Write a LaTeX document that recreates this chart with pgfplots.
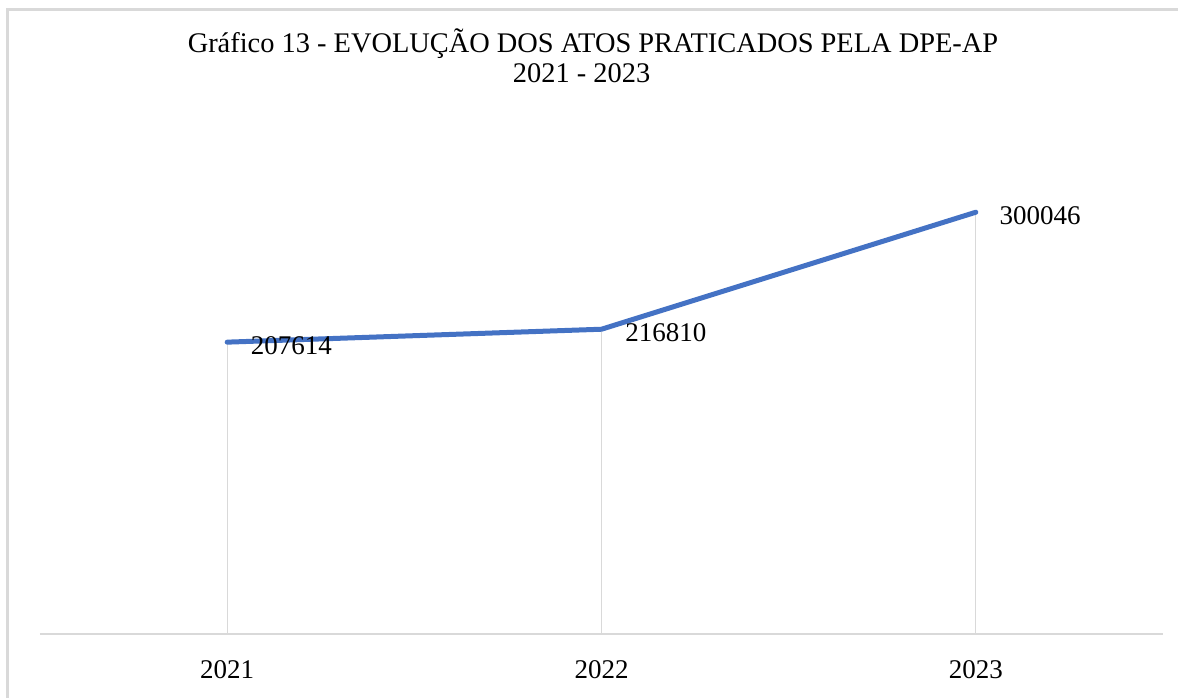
\documentclass[border=0pt]{standalone}
\usepackage{pgfplots}
\pgfplotsset{compat=1.18}
\usepackage{fontspec}
\setmainfont{Liberation Serif}
\definecolor{linhaazul}{HTML}{4472C4}
\definecolor{cinzagrade}{HTML}{D9D9D9}

\begin{document}
\begin{tikzpicture}
% page is 1178x697 px at 0.5pt per px
\useasboundingbox (0,0) rectangle (589pt,348.5pt);
% chart frame (runs off the right and bottom edges)
\draw[cinzagrade, line width=1.5pt] (3.5pt,-20pt) -- (3.5pt,343.5pt) -- (620pt,343.5pt);

\node[anchor=base, font=\fontsize{14.2}{17}\selectfont] at (296.5pt,322pt)
  {Gráfico 13 - EVOLUÇÃO DOS ATOS PRATICADOS PELA DPE-AP};
\node[anchor=base, font=\fontsize{14.2}{17}\selectfont] at (290.8pt,307pt) {2021 - 2023};

\begin{axis}[
  at={(20pt,31.5pt)}, anchor=south west,
  scale only axis,
  width=561.5pt, height=246pt,
  xmin=-0.5, xmax=2.5,
  ymin=0, ymax=350000,
  axis x line*=bottom,
  axis y line=none,
  x axis line style={draw=cinzagrade, line width=0.8pt},
  xtick={0,1,2},
  xticklabels={2021,2022,2023},
  major tick length=0pt,
  xticklabel style={anchor=base, yshift=-22pt, font=\fontsize{13.5}{16}\selectfont},
  clip=false,
]
% drop lines
\addplot[ycomb, draw=cinzagrade, line width=0.6pt] coordinates {
  (0,207614) (1,216810) (2,300046)
};
% series
\addplot[linhaazul, line width=2.5pt, line join=round, line cap=round,
  nodes near coords, point meta=explicit symbolic,
  every node near coord/.style={anchor=west, xshift=7.3pt, yshift=-1.5pt,
    text=black, font=\fontsize{13.5}{16}\selectfont}]
  coordinates {
  (0,207614) [207614]
  (1,216810) [216810]
  (2,300046) [300046]
};
\end{axis}
\end{tikzpicture}
\end{document}
